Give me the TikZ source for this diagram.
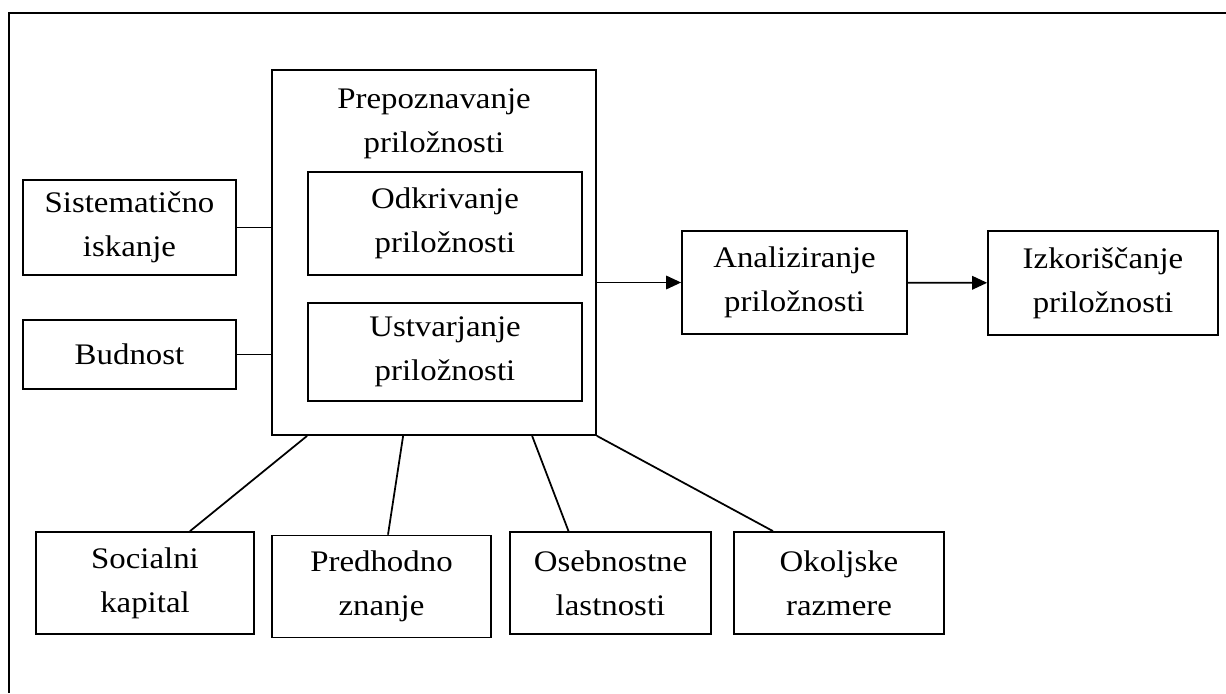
\documentclass[tikz,border=0pt]{standalone}
\usepackage{fontspec}
\setmainfont{Liberation Serif}[FakeStretch=1.1]
\usetikzlibrary{arrows.meta}
\tikzset{
  box/.style={draw, line width=1pt, align=center, inner sep=0pt},
  link/.style={line width=1pt},
  flow/.style={line width=1pt, -{Triangle[length=0.3cm,width=0.27cm]}}
}
\begin{document}
\begin{tikzpicture}[x=0.02cm,y=-0.02cm,font=\fontsize{17}{25}\selectfont]
  \useasboundingbox (0,0) rectangle (1226,693);
  \draw[line width=1.4pt] (1226,13) -- (9,13) -- (9,693);
  % prepoznavanje
  \node[box, minimum width=6.48cm, minimum height=7.3cm] (prep) at (434,252.5) {};
  \node[anchor=north, inner sep=0pt, align=center] (prept) at (434,88) {Prepoznavanje\\priložnosti};
  \node[box, minimum width=5.48cm, minimum height=2.06cm] (odk) at (445,223.5) {Odkrivanje\\priložnosti};
  \node[box, minimum width=5.48cm, minimum height=1.96cm] (ust) at (445,352) {Ustvarjanje\\priložnosti};
  % left side
  \node[box, minimum width=4.26cm, minimum height=1.9cm] (sis) at (129.5,227.5) {Sistematično\\iskanje};
  \node[box, minimum width=4.26cm, minimum height=1.38cm] (bud) at (129.5,354.5) {Budnost};
  \draw[link] (sis) -- (sis -| prep.west);
  \draw[link] (bud) -- (bud -| prep.west);
  % right side
  \node[box, minimum width=4.5cm, minimum height=2.06cm] (ana) at (794.5,282.5) {Analiziranje\\priložnosti};
  \node[box, minimum width=4.6cm, minimum height=2.08cm] (izk) at (1103,283) {Izkoriščanje\\priložnosti};
  \draw[flow] (prep.east |- ana.west) -- (ana.west);
  \draw[flow] (ana) -- (izk);
  % bottom
  \foreach \n/\x/\y/\w/\t in {soc/145/583/4.36/{Socialni\\kapital}, pre/381.5/586.5/4.38/{Predhodno\\znanje},
      ose/610.5/583/4.02/{Osebnostne\\lastnosti}, oko/839/583/4.2/{Okoljske\\razmere}} {
    \node[box, minimum width=\w cm, minimum height=2.04cm] (\n) at (\x,\y) {\t};
  }
  \draw[link] ([xshift=0.72cm]prep.south west) -- ([xshift=0.9cm]soc.north);
  \draw[link] ([xshift=2.64cm]prep.south west) -- ([xshift=0.13cm]pre.north);
  \draw[link] ([xshift=5.22cm]prep.south west) -- ([xshift=-0.84cm]ose.north);
  \draw[link] (prep.south east) -- ([xshift=-1.32cm]oko.north);
\end{tikzpicture}
\end{document}
